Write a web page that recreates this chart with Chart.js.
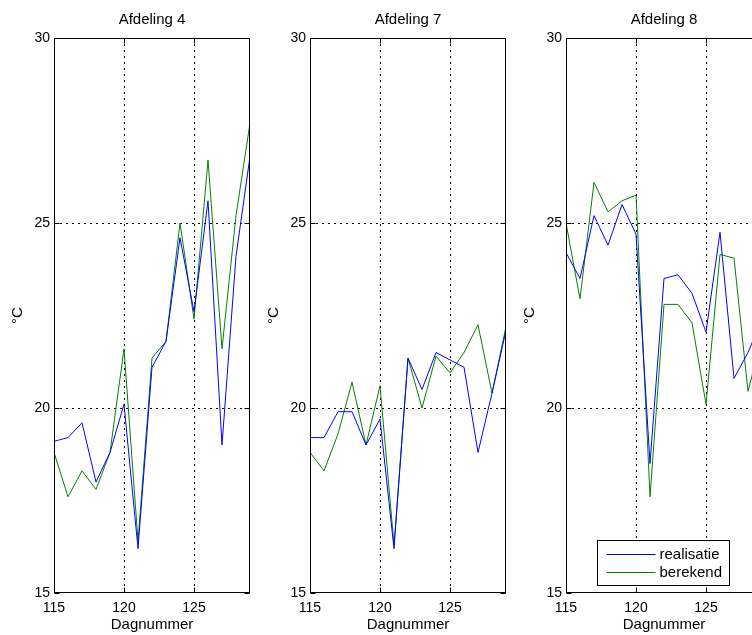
<!DOCTYPE html>
<html>
<head>
<meta charset="utf-8">
<title>Afdelingen</title>
<script src="https://cdn.jsdelivr.net/npm/chart.js@4"></script>
<style>
  html, body { margin: 0; padding: 0; background: #fff; overflow: hidden; }
  body { width: 752px; height: 635px; position: relative; }
  canvas { position: absolute; top: 0; }
</style>
</head>
<body>
<canvas id="afd4" width="254" height="635" style="left:0px"></canvas>
<canvas id="afd7" width="254" height="635" style="left:256px"></canvas>
<canvas id="afd8" width="254" height="635" style="left:512px"></canvas>
<script>
// dagnummers op de x-as
const days = [115, 116, 117, 118, 119, 120, 121, 122, 123, 124, 125, 126, 127, 128, 129];

// temperaturen (°C)
const afd4Real = [19.1, 19.2, 19.6, 18.0, 18.8, 20.1, 16.2, 21.1, 21.8, 24.6, 22.6, 25.6, 19.0, 24.1, 26.8];
const afd4Calc = [18.8, 17.6, 18.3, 17.8, 18.8, 21.6, 16.4, 21.35, 21.8, 25.0, 22.4, 26.7, 21.6, 25.2, 27.7];

const afd7Real = [19.2, 19.2, 19.9, 19.9, 19.0, 19.7, 16.2, 21.35, 20.5, 21.5, 21.3, 21.1, 18.8, 20.4, 22.1];
const afd7Calc = [18.8, 18.3, 19.3, 20.7, 19.0, 20.6, 16.3, 21.35, 20.0, 21.4, 20.95, 21.5, 22.25, 20.4, 22.2];

const afd8Real = [24.2, 23.5, 25.2, 24.4, 25.5, 24.7, 18.5, 23.5, 23.6, 23.1, 22.05, 24.75, 20.8, 21.5, 22.4];
const afd8Calc = [25.0, 22.95, 26.1, 25.3, 25.6, 25.75, 17.6, 22.8, 22.8, 22.3, 20.1, 24.15, 24.05, 20.45, 21.9];

const seriesNames = ['realisatie', 'berekend'];
const seriesColors = ['rgb(0,0,255)', 'rgb(0,128,0)'];
const xTicks = [115, 120, 125];
const yTicks = [15, 20, 25, 30];

Chart.defaults.font.family = '"Liberation Sans", Arial, sans-serif';
Chart.defaults.color = '#000';

// MATLAB-achtige box met korte tickstreepjes naar binnen
const boxPlugin = {
    id: 'box',
    afterDatasetsDraw(chart) {
        const { ctx, chartArea: a, scales } = chart;
        const l = Math.round(a.left) + 0.5, r = Math.round(a.right) - 0.5;
        const t = Math.round(a.top) + 0.5, b = Math.round(a.bottom) - 0.5;
        ctx.save();
        ctx.strokeStyle = '#000';
        ctx.lineWidth = 1;
        ctx.beginPath();
        xTicks.forEach(v => {
            const x = Math.round(scales.x.getPixelForValue(v)) + 0.5;
            ctx.moveTo(x, b); ctx.lineTo(x, b - 5);
            ctx.moveTo(x, t); ctx.lineTo(x, t + 5);
        });
        yTicks.forEach(v => {
            const y = Math.round(scales.y.getPixelForValue(v)) + 0.5;
            ctx.moveTo(l, y); ctx.lineTo(l + 5, y);
            ctx.moveTo(r, y); ctx.lineTo(r - 5, y);
        });
        ctx.stroke();
        ctx.strokeRect(l, t, r - l, b - t);
        ctx.restore();
    }
};

// legenda binnen het plotvlak (alleen laatste paneel)
const insideLegend = {
    id: 'insideLegend',
    afterDraw(chart) {
        const { ctx, chartArea: a } = chart;
        const x0 = Math.round(a.left) + 31.5, y0 = Math.round(a.bottom) - 52.5;
        ctx.save();
        ctx.fillStyle = '#fff';
        ctx.fillRect(x0, y0, 132, 45);
        ctx.strokeStyle = '#000';
        ctx.lineWidth = 1;
        ctx.strokeRect(x0, y0, 132, 45);
        ctx.font = '15px "Liberation Sans", Arial, sans-serif';
        ctx.textBaseline = 'middle';
        seriesNames.forEach((name, i) => {
            const y = y0 + 14 + i * 18;
            ctx.strokeStyle = seriesColors[i];
            ctx.beginPath();
            ctx.moveTo(x0 + 9, y);
            ctx.lineTo(x0 + 58, y);
            ctx.stroke();
            ctx.fillStyle = '#000';
            ctx.fillText(name, x0 + 62, y);
        });
        ctx.restore();
    }
};

function innerGrid(min, max) {
    return c => (c.tick && c.tick.value > min && c.tick.value < max) ? '#000' : 'rgba(0,0,0,0)';
}

function makePanel(id, title, real, calc, withLegend) {
    const ctx = document.getElementById(id).getContext('2d');
    new Chart(ctx, {
        type: 'line',
        data: {
            labels: days,
            datasets: [real, calc].map((vals, i) => ({
                label: seriesNames[i],
                data: days.map((d, j) => ({ x: d, y: vals[j] })),
                borderColor: seriesColors[i],
                borderWidth: 1,
                pointRadius: 0,
                tension: 0,
                fill: false
            }))
        },
        options: {
            responsive: false,
            animation: false,
            layout: { padding: { left: 0, right: 4, top: 0, bottom: 0 } },
            plugins: {
                legend: { display: false },
                tooltip: { enabled: false },
                title: {
                    display: true,
                    text: title,
                    fullSize: false,
                    font: { size: 15, weight: 'normal' },
                    padding: { top: 11, bottom: 9 }
                }
            },
            scales: {
                x: {
                    type: 'linear',
                    min: 115,
                    max: 129,
                    afterFit: s => { s.height = 42; },
                    ticks: { stepSize: 5, includeBounds: false, font: { size: 14 }, padding: 7, maxRotation: 0 },
                    grid: { color: innerGrid(115, 129), drawTicks: false, lineWidth: 1 },
                    border: { display: false, dash: [2, 4] },
                    title: { display: true, text: 'Dagnummer', font: { size: 15 }, padding: { top: 0, bottom: 1 } }
                },
                y: {
                    min: 15,
                    max: 30,
                    afterFit: s => { s.width = 54; },
                    ticks: { stepSize: 5, font: { size: 14 }, padding: 4 },
                    grid: { color: innerGrid(15, 30), drawTicks: false, lineWidth: 1 },
                    border: { display: false, dash: [2, 4] },
                    title: { display: true, text: '°C', font: { size: 15 }, padding: { top: 9, bottom: 0 } }
                }
            }
        },
        plugins: withLegend ? [boxPlugin, insideLegend] : [boxPlugin]
    });
}

makePanel('afd4', 'Afdeling 4', afd4Real, afd4Calc, false);
makePanel('afd7', 'Afdeling 7', afd7Real, afd7Calc, false);
makePanel('afd8', 'Afdeling 8', afd8Real, afd8Calc, true);
</script>
</body>
</html>
